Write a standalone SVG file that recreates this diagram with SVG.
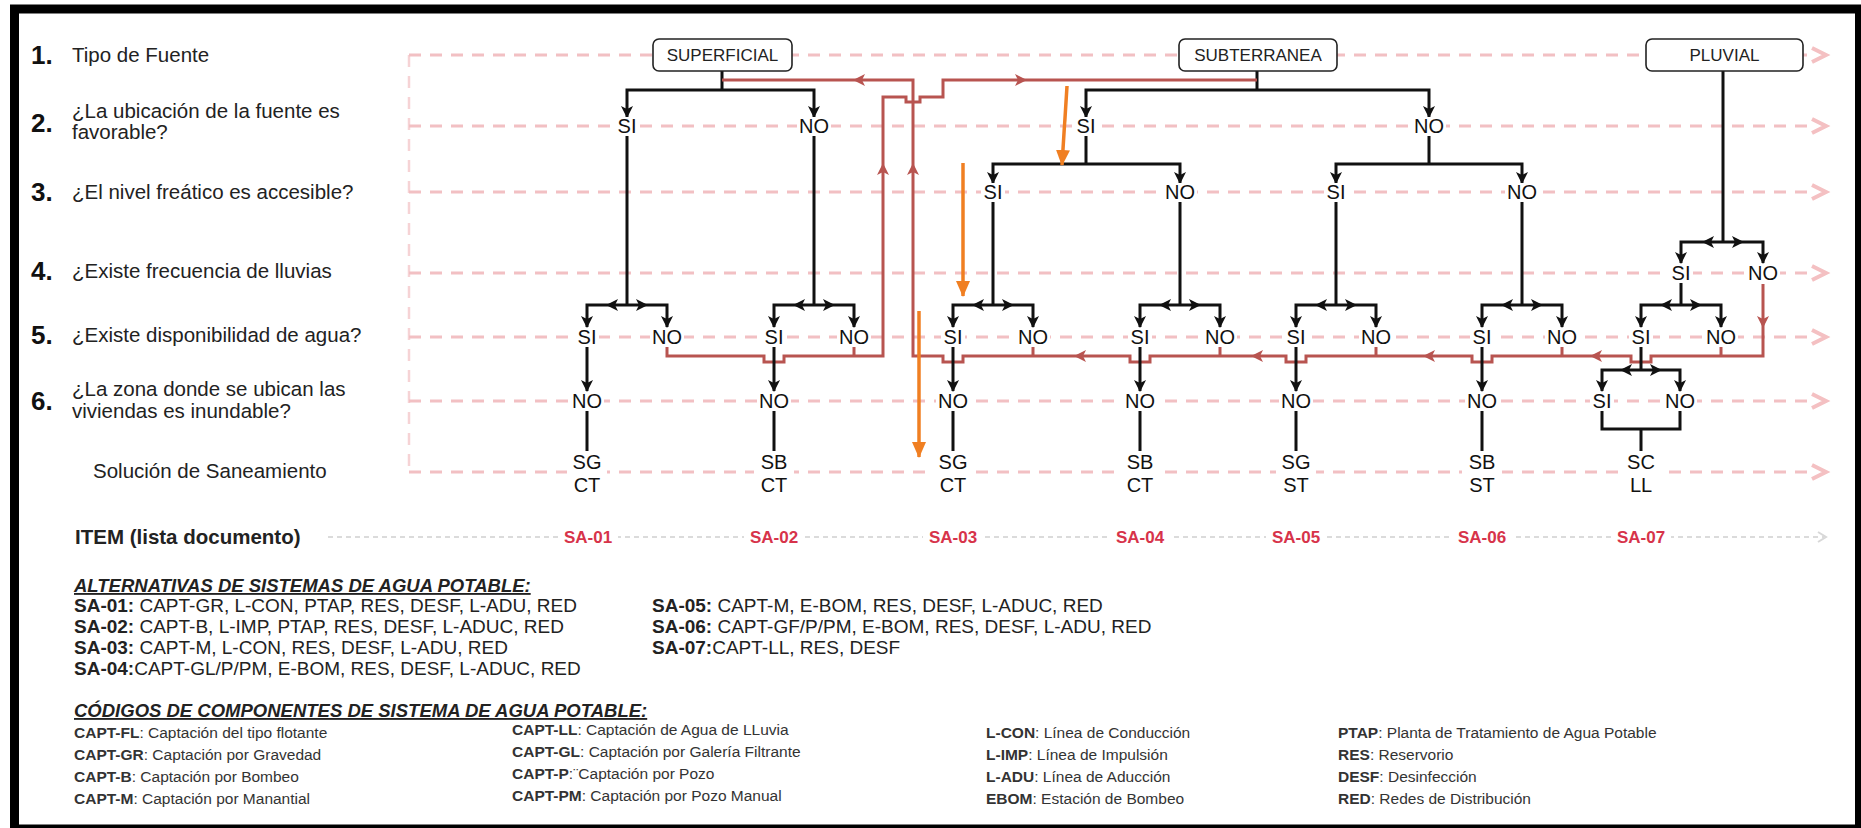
<svg xmlns="http://www.w3.org/2000/svg" xmlns:xlink="http://www.w3.org/1999/xlink" width="1861" height="828" viewBox="0 0 1861 828">
<style>
text{font-family:"Liberation Sans",Arial,sans-serif;fill:#222}
.lbl{font-size:20.5px}
.num{font-size:26px;font-weight:bold;fill:#111}
.yn{font-size:20px;text-anchor:middle;fill:#111}
.bx{font-size:17px;text-anchor:middle;fill:#222}
.sa{font-size:17px;font-weight:bold;text-anchor:middle;fill:#d7334a}
.alt{font-size:19px}
.code{font-size:15.5px;fill:#333}
.ttl{font-size:18.5px;font-weight:bold;font-style:italic;text-decoration:underline}
.b{font-weight:bold}
.bg{fill:#fff}
.box{fill:#fff;stroke:#222;stroke-width:1.6}
.row{fill:none;stroke:#f2c0c3;stroke-width:3;stroke-dasharray:12 9}
.vrow{fill:none;stroke:#f6d3d5;stroke-width:2.5;stroke-dasharray:12 9}
.chev{fill:none;stroke:#f4c0c2;stroke-width:4;stroke-linejoin:miter}
.blk{fill:none;stroke:#111;stroke-width:3}
.arr{marker-end:url(#ab)}
.red{fill:none;stroke:#b85450;stroke-width:3}
.org{fill:none;stroke:#f07f22;stroke-width:3.5;marker-end:url(#ao)}
</style>
<defs>
<marker id="ab" viewBox="0 0 12 12" refX="11" refY="6" markerWidth="12" markerHeight="12" markerUnits="userSpaceOnUse" orient="auto"><path d="M0,0 L12,6 L0,12 L3,6 z" fill="#111"/></marker>
<marker id="ao" viewBox="0 0 16 14" refX="15" refY="7" markerWidth="16" markerHeight="14" markerUnits="userSpaceOnUse" orient="auto"><path d="M0,0 L16,7 L0,14 z" fill="#f07f22"/></marker>
<path id="ra" d="M-12,-6 L0,0 L-12,6 L-9,0 z" fill="#b85450"/>
</defs>
<rect width="1861" height="828" fill="#fff"/>
<rect x="14.5" y="9" width="1845" height="820" fill="none" stroke="#000" stroke-width="9"/>

<g id="rows">
<path class="vrow" d="M409,55 V472"/>
<path class="row" d="M409,55 H1812 M409,126 H1812 M409,192 H1812 M409,273 H1812 M409,337 H1812 M409,401 H1812 M409,472 H1812"/>
<path class="chev" d="M1812,48 L1826,55 L1812,62 M1812,119 L1826,126 L1812,133 M1812,185 L1826,192 L1812,199 M1812,266 L1826,273 L1812,280 M1812,330 L1826,337 L1812,344 M1812,394 L1826,401 L1812,408 M1812,465 L1826,472 L1812,479"/>
<path d="M328,537 H1824" fill="none" stroke="#cfcfcf" stroke-width="1.5" stroke-dasharray="5 4"/>
<path d="M1818,532 L1826,537 L1818,542" fill="none" stroke="#d8d8d8" stroke-width="2"/>
</g>

<g id="row-labels">
<text class="num" x="31" y="64">1.</text><text class="lbl" x="72" y="62">Tipo de Fuente</text>
<text class="num" x="31" y="132">2.</text><text class="lbl" x="72" y="118">¿La ubicación de la fuente es</text><text class="lbl" x="72" y="139">favorable?</text>
<text class="num" x="31" y="201">3.</text><text class="lbl" x="72" y="199">¿El nivel freático es accesible?</text>
<text class="num" x="31" y="280">4.</text><text class="lbl" x="72" y="278">¿Existe frecuencia de lluvias</text>
<text class="num" x="31" y="344">5.</text><text class="lbl" x="72" y="342">¿Existe disponibilidad de agua?</text>
<text class="num" x="31" y="410">6.</text><text class="lbl" x="72" y="396">¿La zona donde se ubican las</text><text class="lbl" x="72" y="418">viviendas es inundable?</text>
<text class="lbl" x="93" y="478">Solución de Saneamiento</text>
<text class="lbl b" x="75" y="544">ITEM (lista documento)</text>
</g>

<g id="connectors">
<path class="blk" d="M722,71 V90 M1257,71 V90"/>
<path class="blk arr" d="M722,90 H627 V117"/>
<path class="blk arr" d="M722,90 H814 V117"/>
<path class="blk arr" d="M1257,90 H1086 V117"/>
<path class="blk arr" d="M1257,90 H1429 V117"/>
<path class="blk" d="M1086,136 V164 M1429,136 V164"/>
<path class="blk arr" d="M1086,164 H993 V183"/>
<path class="blk arr" d="M1086,164 H1180 V183"/>
<path class="blk arr" d="M1429,164 H1336 V183"/>
<path class="blk arr" d="M1429,164 H1522 V183"/>
<path class="blk" d="M1723,71 V242"/>
<path class="blk arr" d="M1723,242 H1703"/><path class="blk arr" d="M1703,242 H1681 V263"/>
<path class="blk arr" d="M1723,242 H1743"/><path class="blk arr" d="M1743,242 H1763 V263"/>
<path class="blk" d="M627,136 V305 M814,136 V305 M993,202 V305 M1180,202 V305 M1336,202 V305 M1522,202 V305 M1681,283 V305"/>
<path class="blk arr" d="M627,305 H607"/><path class="blk arr" d="M607,305 H587 V327"/><path class="blk arr" d="M627,305 H647"/><path class="blk arr" d="M647,305 H667 V327"/>
<path class="blk arr" d="M814,305 H794"/><path class="blk arr" d="M794,305 H774 V327"/><path class="blk arr" d="M814,305 H834"/><path class="blk arr" d="M834,305 H854 V327"/>
<path class="blk arr" d="M993,305 H973"/><path class="blk arr" d="M973,305 H953 V327"/><path class="blk arr" d="M993,305 H1013"/><path class="blk arr" d="M1013,305 H1033 V327"/>
<path class="blk arr" d="M1180,305 H1160"/><path class="blk arr" d="M1160,305 H1140 V327"/><path class="blk arr" d="M1180,305 H1200"/><path class="blk arr" d="M1200,305 H1220 V327"/>
<path class="blk arr" d="M1336,305 H1316"/><path class="blk arr" d="M1316,305 H1296 V327"/><path class="blk arr" d="M1336,305 H1356"/><path class="blk arr" d="M1356,305 H1376 V327"/>
<path class="blk arr" d="M1522,305 H1502"/><path class="blk arr" d="M1502,305 H1482 V327"/><path class="blk arr" d="M1522,305 H1542"/><path class="blk arr" d="M1542,305 H1562 V327"/>
<path class="blk arr" d="M1681,305 H1661"/><path class="blk arr" d="M1661,305 H1641 V327"/><path class="blk arr" d="M1681,305 H1701"/><path class="blk arr" d="M1701,305 H1721 V327"/>
<path class="red" d="M1763,284 V356 H1651 V362 H1631 V356 H1492 V362 H1472 V356 H1306 V362 H1286 V356 H1150 V362 H1130 V356 H963 V362 H943 V356 H913 V80 H722"/>
<path class="red" d="M1721,347 V356 M1562,347 V356 M1376,347 V356 M1220,347 V356 M1033,347 V356 M854,347 V356"/>
<path class="red" d="M667,347 V356 H764 V362 H784 V356 H883 V97 H906 V102 H920 V97 H943 V80 H1257"/>
<use xlink:href="#ra" href="#ra" transform="translate(1763,328) rotate(90)"/>
<use xlink:href="#ra" href="#ra" transform="translate(1590,356) rotate(180)"/>
<use xlink:href="#ra" href="#ra" transform="translate(1423,356) rotate(180)"/>
<use xlink:href="#ra" href="#ra" transform="translate(1251,356) rotate(180)"/>
<use xlink:href="#ra" href="#ra" transform="translate(1074,356) rotate(180)"/>
<use xlink:href="#ra" href="#ra" transform="translate(913,163) rotate(-90)"/>
<use xlink:href="#ra" href="#ra" transform="translate(883,163) rotate(-90)"/>
<use xlink:href="#ra" href="#ra" transform="translate(853,80) rotate(180)"/>
<use xlink:href="#ra" href="#ra" transform="translate(1027,80)"/>
<path class="blk arr" d="M587,347 V391"/><path class="blk arr" d="M774,347 V391"/><path class="blk arr" d="M953,347 V391"/><path class="blk arr" d="M1140,347 V391"/><path class="blk arr" d="M1296,347 V391"/><path class="blk arr" d="M1482,347 V391"/>
<path class="blk" d="M1641,347 V370"/>
<path class="blk arr" d="M1641,370 H1621"/><path class="blk arr" d="M1621,370 H1602 V391"/><path class="blk arr" d="M1641,370 H1661"/><path class="blk arr" d="M1661,370 H1680 V391"/>
<path class="blk" d="M587,411 V451 M774,411 V451 M953,411 V451 M1140,411 V451 M1296,411 V451 M1482,411 V451"/>
<path class="blk" d="M1602,411 V429 H1680 V411 M1641,429 V451"/>
<path class="org" d="M1067,86 L1062,165"/>
<path class="org" d="M963,163 V296"/>
<path class="org" d="M919,311 V457"/>
</g>

<g id="n-superficial"><rect class="box" x="653" y="39" width="139" height="32" rx="6"/><text class="bx" x="722.5" y="61">SUPERFICIAL</text></g>
<g id="n-subterranea"><rect class="box" x="1179" y="39" width="158" height="32" rx="6"/><text class="bx" x="1258" y="61">SUBTERRANEA</text></g>
<g id="n-pluvial"><rect class="box" x="1646" y="39" width="157" height="32" rx="6"/><text class="bx" x="1724.5" y="61">PLUVIAL</text></g>

<g id="n-r2">
<rect class="bg" x="615" y="117" width="24" height="18"/><text class="yn" x="627" y="133">SI</text>
<rect class="bg" x="797" y="117" width="34" height="18"/><text class="yn" x="814" y="133">NO</text>
<rect class="bg" x="1074" y="117" width="24" height="18"/><text class="yn" x="1086" y="133">SI</text>
<rect class="bg" x="1412" y="117" width="34" height="18"/><text class="yn" x="1429" y="133">NO</text>
</g>
<g id="n-r3">
<rect class="bg" x="981" y="183" width="24" height="18"/><text class="yn" x="993" y="199">SI</text>
<rect class="bg" x="1163" y="183" width="34" height="18"/><text class="yn" x="1180" y="199">NO</text>
<rect class="bg" x="1324" y="183" width="24" height="18"/><text class="yn" x="1336" y="199">SI</text>
<rect class="bg" x="1505" y="183" width="34" height="18"/><text class="yn" x="1522" y="199">NO</text>
</g>
<g id="n-r4">
<rect class="bg" x="1669" y="264" width="24" height="18"/><text class="yn" x="1681" y="280">SI</text>
<rect class="bg" x="1746" y="264" width="34" height="18"/><text class="yn" x="1763" y="280">NO</text>
</g>
<g id="n-r5">
<rect class="bg" x="575" y="328" width="24" height="18"/><text class="yn" x="587" y="344">SI</text>
<rect class="bg" x="650" y="328" width="34" height="18"/><text class="yn" x="667" y="344">NO</text>
<rect class="bg" x="762" y="328" width="24" height="18"/><text class="yn" x="774" y="344">SI</text>
<rect class="bg" x="837" y="328" width="34" height="18"/><text class="yn" x="854" y="344">NO</text>
<rect class="bg" x="941" y="328" width="24" height="18"/><text class="yn" x="953" y="344">SI</text>
<rect class="bg" x="1016" y="328" width="34" height="18"/><text class="yn" x="1033" y="344">NO</text>
<rect class="bg" x="1128" y="328" width="24" height="18"/><text class="yn" x="1140" y="344">SI</text>
<rect class="bg" x="1203" y="328" width="34" height="18"/><text class="yn" x="1220" y="344">NO</text>
<rect class="bg" x="1284" y="328" width="24" height="18"/><text class="yn" x="1296" y="344">SI</text>
<rect class="bg" x="1359" y="328" width="34" height="18"/><text class="yn" x="1376" y="344">NO</text>
<rect class="bg" x="1470" y="328" width="24" height="18"/><text class="yn" x="1482" y="344">SI</text>
<rect class="bg" x="1545" y="328" width="34" height="18"/><text class="yn" x="1562" y="344">NO</text>
<rect class="bg" x="1629" y="328" width="24" height="18"/><text class="yn" x="1641" y="344">SI</text>
<rect class="bg" x="1704" y="328" width="34" height="18"/><text class="yn" x="1721" y="344">NO</text>
</g>
<g id="n-r6">
<rect class="bg" x="570" y="392" width="34" height="18"/><text class="yn" x="587" y="408">NO</text>
<rect class="bg" x="757" y="392" width="34" height="18"/><text class="yn" x="774" y="408">NO</text>
<rect class="bg" x="936" y="392" width="34" height="18"/><text class="yn" x="953" y="408">NO</text>
<rect class="bg" x="1123" y="392" width="34" height="18"/><text class="yn" x="1140" y="408">NO</text>
<rect class="bg" x="1279" y="392" width="34" height="18"/><text class="yn" x="1296" y="408">NO</text>
<rect class="bg" x="1465" y="392" width="34" height="18"/><text class="yn" x="1482" y="408">NO</text>
<rect class="bg" x="1590" y="392" width="24" height="18"/><text class="yn" x="1602" y="408">SI</text>
<rect class="bg" x="1663" y="392" width="34" height="18"/><text class="yn" x="1680" y="408">NO</text>
</g>
<g id="n-solutions">
<rect class="bg" x="567" y="452" width="40" height="42"/><text class="yn" x="587" y="469">SG</text><text class="yn" x="587" y="492">CT</text>
<rect class="bg" x="754" y="452" width="40" height="42"/><text class="yn" x="774" y="469">SB</text><text class="yn" x="774" y="492">CT</text>
<rect class="bg" x="933" y="452" width="40" height="42"/><text class="yn" x="953" y="469">SG</text><text class="yn" x="953" y="492">CT</text>
<rect class="bg" x="1120" y="452" width="40" height="42"/><text class="yn" x="1140" y="469">SB</text><text class="yn" x="1140" y="492">CT</text>
<rect class="bg" x="1276" y="452" width="40" height="42"/><text class="yn" x="1296" y="469">SG</text><text class="yn" x="1296" y="492">ST</text>
<rect class="bg" x="1462" y="452" width="40" height="42"/><text class="yn" x="1482" y="469">SB</text><text class="yn" x="1482" y="492">ST</text>
<rect class="bg" x="1621" y="452" width="40" height="42"/><text class="yn" x="1641" y="469">SC</text><text class="yn" x="1641" y="492">LL</text>
</g>
<g id="n-items">
<rect class="bg" x="558" y="527" width="60" height="20"/><text class="sa" x="588" y="543">SA-01</text>
<rect class="bg" x="744" y="527" width="60" height="20"/><text class="sa" x="774" y="543">SA-02</text>
<rect class="bg" x="923" y="527" width="60" height="20"/><text class="sa" x="953" y="543">SA-03</text>
<rect class="bg" x="1110" y="527" width="60" height="20"/><text class="sa" x="1140" y="543">SA-04</text>
<rect class="bg" x="1266" y="527" width="60" height="20"/><text class="sa" x="1296" y="543">SA-05</text>
<rect class="bg" x="1452" y="527" width="60" height="20"/><text class="sa" x="1482" y="543">SA-06</text>
<rect class="bg" x="1611" y="527" width="60" height="20"/><text class="sa" x="1641" y="543">SA-07</text>
</g>

<g id="legend-alternativas">
<text class="ttl" x="74" y="592">ALTERNATIVAS DE SISTEMAS DE AGUA POTABLE:</text>
<text class="alt" x="74" y="612"><tspan class="b">SA-01:</tspan> CAPT-GR, L-CON, PTAP, RES, DESF, L-ADU, RED</text>
<text class="alt" x="74" y="633"><tspan class="b">SA-02:</tspan> CAPT-B, L-IMP, PTAP, RES, DESF, L-ADUC, RED</text>
<text class="alt" x="74" y="654"><tspan class="b">SA-03:</tspan> CAPT-M, L-CON, RES, DESF, L-ADU, RED</text>
<text class="alt" x="74" y="675"><tspan class="b">SA-04:</tspan>CAPT-GL/P/PM, E-BOM, RES, DESF, L-ADUC, RED</text>
<text class="alt" x="652" y="612"><tspan class="b">SA-05:</tspan> CAPT-M, E-BOM, RES, DESF, L-ADUC, RED</text>
<text class="alt" x="652" y="633"><tspan class="b">SA-06:</tspan> CAPT-GF/P/PM, E-BOM, RES, DESF, L-ADU, RED</text>
<text class="alt" x="652" y="654"><tspan class="b">SA-07:</tspan>CAPT-LL, RES, DESF</text>
</g>
<g id="legend-codigos">
<text class="ttl" x="74" y="717">CÓDIGOS DE COMPONENTES DE SISTEMA DE AGUA POTABLE:</text>
<text class="code" x="74" y="738"><tspan class="b">CAPT-FL</tspan>: Captación del tipo flotante</text>
<text class="code" x="74" y="760"><tspan class="b">CAPT-GR</tspan>: Captación por Gravedad</text>
<text class="code" x="74" y="782"><tspan class="b">CAPT-B</tspan>: Captación por Bombeo</text>
<text class="code" x="74" y="804"><tspan class="b">CAPT-M</tspan>: Captación por Manantial</text>
<text class="code" x="512" y="735"><tspan class="b">CAPT-LL</tspan>: Captación de Agua de LLuvia</text>
<text class="code" x="512" y="757"><tspan class="b">CAPT-GL</tspan>: Captación por Galería Filtrante</text>
<text class="code" x="512" y="779"><tspan class="b">CAPT-P</tspan>:¨Captación por Pozo</text>
<text class="code" x="512" y="801"><tspan class="b">CAPT-PM</tspan>: Captación por Pozo Manual</text>
<text class="code" x="986" y="738"><tspan class="b">L-CON</tspan>: Línea de Conducción</text>
<text class="code" x="986" y="760"><tspan class="b">L-IMP</tspan>: Línea de Impulsión</text>
<text class="code" x="986" y="782"><tspan class="b">L-ADU</tspan>: Línea de Aducción</text>
<text class="code" x="986" y="804"><tspan class="b">EBOM</tspan>: Estación de Bombeo</text>
<text class="code" x="1338" y="738"><tspan class="b">PTAP</tspan>: Planta de Tratamiento de Agua Potable</text>
<text class="code" x="1338" y="760"><tspan class="b">RES</tspan>: Reservorio</text>
<text class="code" x="1338" y="782"><tspan class="b">DESF</tspan>: Desinfección</text>
<text class="code" x="1338" y="804"><tspan class="b">RED</tspan>: Redes de Distribución</text>
</g>
</svg>
